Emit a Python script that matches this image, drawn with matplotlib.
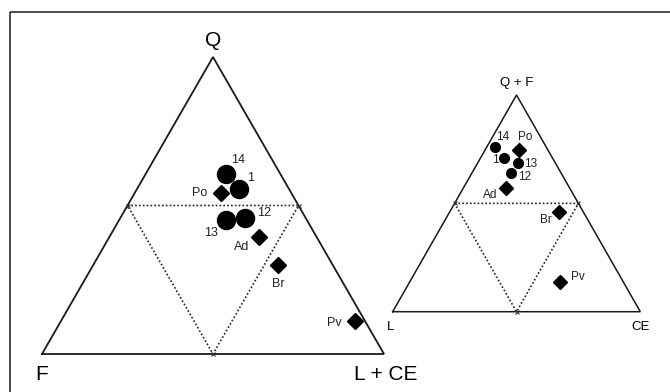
import numpy as np
import matplotlib.pyplot as plt
from matplotlib.patches import Rectangle

plt.rcParams['font.family'] = ['Liberation Sans', 'DejaVu Sans']

# QFL diagram (percent): Q, F, L+CE
qfl_names = ["14", "1", "Po", "13", "12", "Ad", "Br", "Pv"]
qfl_q = [60.5, 55.5, 54.1, 45.1, 45.7, 39.5, 30.0, 11.2]
qfl_f = [15.9, 14.7, 20.5, 23.6, 17.8, 16.8, 16.0, 2.8]
qfl_l = [23.6, 29.8, 25.4, 31.3, 36.5, 43.7, 54.0, 86.0]

# (Q+F), L, CE diagram (percent)
qf_names = ["14", "1", "Po", "13", "12", "Ad", "Br", "Pv"]
qf_qf = [76.1, 71.1, 74.6, 68.8, 63.9, 56.9, 46.1, 13.6]
qf_l = [20.6, 19.4, 11.6, 14.8, 20.3, 25.7, 9.7, 25.6]
qf_ce = [3.3, 9.5, 13.8, 16.4, 15.8, 17.4, 44.2, 60.8]

kind = ["o", "o", "D", "o", "o", "D", "D", "D"]


def tern(top, right, left_c, apex, base_y):
    # left corner, width, height of the triangle
    w = 2 * (apex[0] - left_c)
    h = base_y - apex[1]
    top = np.asarray(top) / 100.0
    right = np.asarray(right) / 100.0
    x = left_c + (right + top / 2) * w
    y = base_y - top * h
    return x, y


def draw_triangle(ax, apex, left_c, base_y, lw=1.3):
    right_c = 2 * apex[0] - left_c
    ax.plot([left_c, apex[0], right_c, left_c], [base_y, apex[1], base_y, base_y],
            color="#1a1a1a", lw=lw, solid_joinstyle="miter")
    mid_y = (apex[1] + base_y) / 2
    ml = ((left_c + apex[0]) / 2, mid_y)
    mr = ((right_c + apex[0]) / 2, mid_y)
    mb = (apex[0], base_y)
    ax.plot([ml[0], mr[0], mb[0], ml[0]], [ml[1], mr[1], mb[1], ml[1]],
            color="#222222", lw=1.2, linestyle=(0, (1.0, 1.3)))
    for p in (ml, mr, mb):
        ax.plot(p[0], p[1], marker="x", ms=3.5, mew=0.8, color="#333333")


fig = plt.figure(figsize=(6.7, 3.92), dpi=100)
ax = fig.add_axes([0, 0, 1, 1])
ax.set_xlim(0, 670)
ax.set_ylim(392, 0)
ax.axis("off")

ax.add_patch(Rectangle((10, 12), 700, 420, fill=False, ec="#1a1a1a", lw=1.1))

# left diagram
apL, leftL, baseL = (213, 57), 42, 354
draw_triangle(ax, apL, leftL, baseL)
xs, ys = tern(qfl_q, qfl_l, leftL, apL, baseL)
for x, y, m in zip(xs, ys, kind):
    ax.plot(x, y, marker=m, ms=13 if m == "o" else 8.2, color="black", mec="black")

off_l = {"14": (12, -14), "1": (12, -11), "Po": (-22, 0), "13": (-15, 13),
         "12": (19, -5), "Ad": (-17, 10), "Br": (0, 19), "Pv": (-21, 2)}
for n, x, y in zip(qfl_names, xs, ys):
    dx, dy = off_l[n]
    ax.text(x + dx, y + dy, n, fontsize=9, ha="center", va="center", color="#222222")

ax.text(213, 40, "Q", fontsize=15, ha="center", va="center")
ax.text(42, 375, "F", fontsize=15, ha="center", va="center")
ax.text(386, 375, "L + CE", fontsize=15, ha="center", va="center")

# right diagram
apR, leftR, baseR = (516.5, 95), 392.7, 311.7
draw_triangle(ax, apR, leftR, baseR, lw=1.1)
xs, ys = tern(qf_qf, qf_ce, leftR, apR, baseR)
for x, y, m in zip(xs, ys, kind):
    ax.plot(x, y, marker=m, ms=7 if m == "o" else 7.2, color="black", mec="black")

off_r = {"14": (8, -10), "1": (-9, 2), "Po": (6, -13), "13": (12, 1),
         "12": (14, 4), "Ad": (-16, 7), "Br": (-13, 8), "Pv": (18, -5)}
for n, x, y in zip(qf_names, xs, ys):
    dx, dy = off_r[n]
    ax.text(x + dx, y + dy, n, fontsize=8.5, ha="center", va="center", color="#222222")

ax.text(516.5, 83, "Q + F", fontsize=9.5, ha="center", va="center")
ax.text(391, 327, "L", fontsize=9.5, ha="center", va="center")
ax.text(641, 327, "CE", fontsize=9.5, ha="center", va="center")

fig.savefig("out.png", dpi=100)
